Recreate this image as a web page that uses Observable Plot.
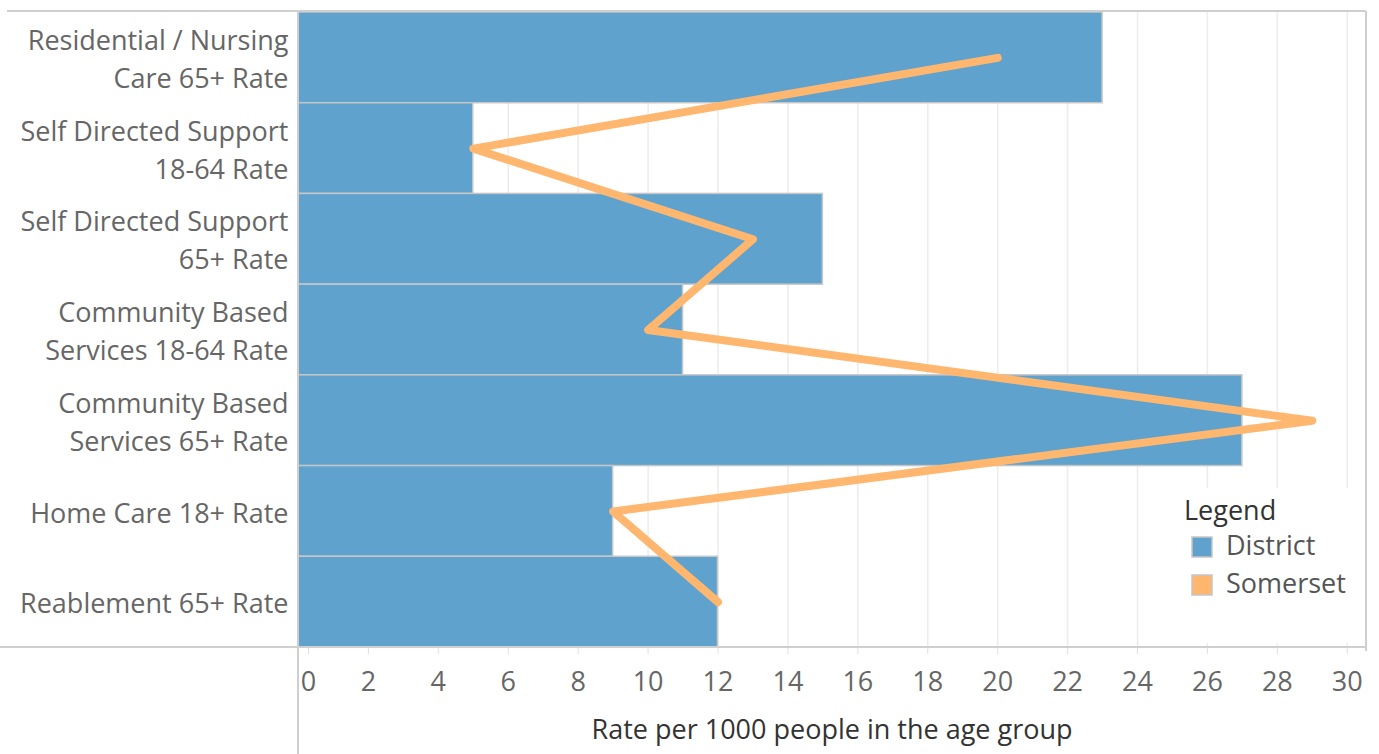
<!DOCTYPE html>
<html>
<head>
<meta charset="utf-8">
<script src="https://cdn.jsdelivr.net/npm/d3@7"></script>
<script src="https://cdn.jsdelivr.net/npm/@observablehq/plot@0.6"></script>
<style>
  html, body { margin: 0; padding: 0; background: #fff; }
  #chart svg { display: block; }
</style>
</head>
<body>
<div id="chart"></div>
<script>
const categories = [
  "Residential / Nursing Care 65+ Rate",
  "Self Directed Support 18-64 Rate",
  "Self Directed Support 65+ Rate",
  "Community Based Services 18-64 Rate",
  "Community Based Services 65+ Rate",
  "Home Care 18+ Rate",
  "Reablement 65+ Rate"
];
const categoryLabels = [
  "Residential / Nursing\nCare 65+ Rate",
  "Self Directed Support\n18-64 Rate",
  "Self Directed Support\n65+ Rate",
  "Community Based\nServices 18-64 Rate",
  "Community Based\nServices 65+ Rate",
  "Home Care 18+ Rate",
  "Reablement 65+ Rate"
];
const districtValues = [23, 5, 15, 11, 27, 9, 12];
const somersetValues = [20, 5, 13, 10, 29, 9, 12];
const xTicks = [0, 2, 4, 6, 8, 10, 12, 14, 16, 18, 20, 22, 24, 26, 28, 30];
const seriesNames = ["District", "Somerset"];
const axisTitle = "Rate per 1000 people in the age group";
const legendTitle = "Legend";

const colors = {District: "#5fa2ce", Somerset: "#ffb770"};
const font = "'Open Sans', sans-serif";
const fs = 27;

const rows = categories.map((c, i) => ({
  category: c, label: categoryLabels[i],
  district: districtValues[i], somerset: somersetValues[i]
}));
const labelOf = new Map(categories.map((c, i) => [c, categoryLabels[i]]));

const W = 1379, H = 754;
const mL = 298, mT = 12, mB = 107, mR = 13;

const plot = Plot.plot({
  width: W, height: H,
  marginLeft: mL, marginTop: mT, marginBottom: mB, marginRight: mR,
  style: {fontFamily: font, background: "#fff", overflow: "visible"},
  x: {domain: [0, 30.55]},
  y: {domain: categories, padding: 0, round: false},
  marks: [
    Plot.gridX(xTicks, {stroke: "#ececec", strokeOpacity: 1, strokeWidth: 1.5}),
    Plot.barX(rows, {x: "district", y: "category", fill: colors.District, stroke: "#c6c6c6", strokeWidth: 1.5, inset: 0}),
    Plot.line(rows, {x: "somerset", y: "category", stroke: colors.Somerset, strokeWidth: 8,
      strokeLinecap: "round", strokeLinejoin: "round"}),
    Plot.axisY({tickSize: 0, tickPadding: 10, tickFormat: d => labelOf.get(d), fontSize: fs,
      lineHeight: 38 / fs, fill: "#666", dy: -1, label: null}),
    Plot.axisX(xTicks.filter(t => t !== 0), {tickSize: 7, stroke: "#e0e0e0", tickPadding: 17, fontSize: fs,
      fill: "#666", label: null}),
    Plot.axisX([0], {tickSize: 7, stroke: "#e0e0e0", tickPadding: 17, fontSize: fs,
      fill: "#666", dx: 10, label: null})
  ]
});

document.getElementById("chart").appendChild(plot);

const svg = d3.select(plot);
const lineColor = "#cfcfcf";
const plotRight = W - mR;
const plotBottom = H - mB;
// frame lines
svg.append("line").attr("x1", 7).attr("x2", plotRight).attr("y1", mT - 1).attr("y2", mT - 1)
  .attr("stroke", lineColor).attr("stroke-width", 2);
svg.append("line").attr("x1", plotRight).attr("x2", plotRight).attr("y1", mT - 1).attr("y2", plotBottom + 4)
  .attr("stroke", lineColor).attr("stroke-width", 2);
svg.append("line").attr("x1", 0).attr("x2", plotRight).attr("y1", plotBottom).attr("y2", plotBottom)
  .attr("stroke", lineColor).attr("stroke-width", 2);
svg.append("line").attr("x1", mL).attr("x2", mL).attr("y1", mT - 1).attr("y2", H)
  .attr("stroke", lineColor).attr("stroke-width", 2);

// axis title
svg.append("text").attr("x", (mL + plotRight) / 2).attr("y", 732)
  .attr("text-anchor", "middle").attr("dominant-baseline", "middle")
  .attr("font-family", font).attr("font-size", fs).attr("fill", "#333").text(axisTitle);

// legend
const lg = svg.append("g").attr("text-anchor", "start");
lg.append("rect").attr("x", 1160).attr("y", 488).attr("width", 204).attr("height", 155).attr("fill", "#fff");
lg.append("text").attr("x", 1184).attr("y", 513).attr("dominant-baseline", "middle").attr("text-anchor", "start")
  .attr("font-family", font).attr("font-size", fs).attr("fill", "#333").attr("font-weight", 500).text(legendTitle);
seriesNames.forEach((s, i) => {
  const y = 547 + i * 38;
  lg.append("rect").attr("x", 1192).attr("y", y - 10).attr("width", 20).attr("height", 20)
    .attr("fill", colors[s]).attr("stroke", "#c6c6c6").attr("stroke-width", 1.5);
  lg.append("text").attr("x", 1226).attr("y", y + 1).attr("dominant-baseline", "middle").attr("text-anchor", "start")
    .attr("font-family", font).attr("font-size", fs).attr("fill", "#555").text(s);
});
</script>
</body>
</html>
